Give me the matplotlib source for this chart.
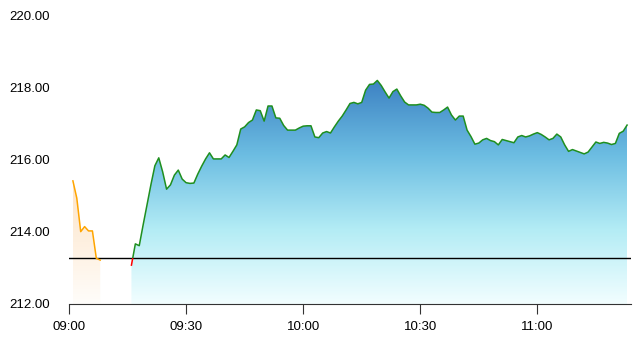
import numpy as np
import matplotlib
matplotlib.use("Agg")
import matplotlib.pyplot as plt
from matplotlib.colors import LinearSegmentedColormap
from matplotlib.patches import Rectangle

plt.rcParams['font.family'] = ['Liberation Sans', 'DejaVu Sans']

# data
prev_close = 213.28
pre_start = "09:01"
pre_prices = [215.42, 214.94, 214.01, 214.15, 214.03, 214.03, 213.27, 213.22]
main_start = "09:16"
main_prices = [
    213.08, 213.67, 213.62, 214.20, 214.76, 215.32, 215.84, 216.06, 215.67, 215.19,
    215.31, 215.58, 215.72, 215.47, 215.37, 215.35, 215.36, 215.61, 215.83, 216.03,
    216.20, 216.03, 216.03, 216.03, 216.14, 216.07, 216.24, 216.42, 216.86, 216.92,
    217.04, 217.11, 217.39, 217.37, 217.08, 217.50, 217.50, 217.17, 217.16, 216.96,
    216.83, 216.83, 216.83, 216.89, 216.94, 216.95, 216.95, 216.64, 216.62, 216.75,
    216.79, 216.75, 216.92, 217.08, 217.22, 217.39, 217.57, 217.60, 217.56, 217.60,
    217.94, 218.10, 218.11, 218.21, 218.07, 217.89, 217.72, 217.90, 217.97, 217.78,
    217.61, 217.53, 217.53, 217.53, 217.55, 217.52, 217.44, 217.33, 217.32, 217.32,
    217.39, 217.47, 217.25, 217.11, 217.22, 217.22, 216.83, 216.65, 216.44, 216.47,
    216.56, 216.60, 216.54, 216.51, 216.42, 216.57, 216.54, 216.51, 216.48, 216.64,
    216.68, 216.64, 216.67, 216.72, 216.76, 216.71, 216.64, 216.56, 216.60, 216.72,
    216.64, 216.42, 216.24, 216.29, 216.25, 216.21, 216.17, 216.22, 216.36, 216.50,
    216.46, 216.49, 216.47, 216.43, 216.46, 216.74, 216.80, 216.97,
]
tick_labels = ["09:00", "09:30", "10:00", "10:30", "11:00"]
y_ticks = [212, 214, 216, 218, 220]


def minutes(hhmm):
    h, m = hhmm.split(":")
    return (int(h) - 9) * 60 + int(m)


x_pre = minutes(pre_start) + np.arange(len(pre_prices))
x_main = minutes(main_start) + np.arange(len(main_prices))
y_bottom, y_top = 212, 220

fig = plt.figure(figsize=(6.41, 3.48), dpi=100)
ax = fig.add_axes([69 / 641, 44 / 348, 562 / 641, 288 / 348])
ax.set_xlim(0, 144)
ax.set_ylim(y_bottom, y_top)


def gradient_fill(x, y, colors):
    poly = ax.fill_between(x, y, y_bottom, facecolor="none", edgecolor="none")
    cmap = LinearSegmentedColormap.from_list("g", colors)
    grad = np.linspace(0, 1, 256).reshape(-1, 1)
    im = ax.imshow(grad, cmap=cmap, aspect="auto", origin="upper",
                   extent=[x[0], x[-1], y_bottom, max(y)], zorder=1)
    path = poly.get_paths()[0]
    im.set_clip_path(path, transform=ax.transData)


gradient_fill(x_pre, pre_prices, ["#fde3c6", "#fffdfa"])
gradient_fill(x_main, main_prices, ["#3d82c3", "#6cbde2", "#b3ecf5", "#f2feff"])

ax.axhline(prev_close, color="black", lw=1, zorder=3)

ax.plot(x_pre, pre_prices, color="orange", lw=1.1, zorder=4)
up, = ax.plot(x_main, main_prices, color="#1f8f1f", lw=1.1, zorder=4)
down, = ax.plot(x_main, main_prices, color="red", lw=1.1, zorder=4)
up.set_clip_path(Rectangle((0, prev_close), 200, 20, transform=ax.transData))
down.set_clip_path(Rectangle((0, prev_close - 20), 200, 20, transform=ax.transData))

for s in ["top", "right", "left"]:
    ax.spines[s].set_visible(False)
ax.spines["bottom"].set_color("#333333")
ax.set_xticks([minutes(t) for t in tick_labels])
ax.set_xticklabels(tick_labels)
ax.set_yticks(y_ticks)
ax.set_yticklabels(["%.2f" % v for v in y_ticks])
ax.tick_params(axis="x", length=7, color="#333333", labelsize=9.5, pad=5)
ax.tick_params(axis="y", length=0, labelsize=9.5, pad=14)

fig.savefig("out.png", dpi=100)
